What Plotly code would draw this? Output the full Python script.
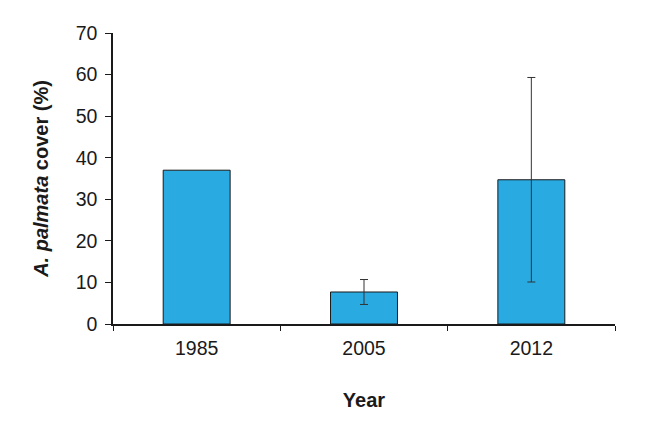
import plotly.graph_objects as go

years = ["1985", "2005", "2012"]
cover = [37.0, 7.7, 34.7]
err_years = ["2005", "2012"]
err_mean = [7.7, 34.7]
err_size = [3.0, 24.6]

fig = go.Figure()
fig.add_trace(go.Bar(
    x=years, y=cover,
    width=0.4,
    marker=dict(color="#29abe2", line=dict(color="#1a1a1a", width=1)),
))
# error bars only where the source has them
fig.add_trace(go.Scatter(
    x=err_years, y=err_mean, mode="markers",
    marker=dict(size=1, color="rgba(0,0,0,0)"),
    error_y=dict(type="data", array=err_size, visible=True,
                 color="#333333", thickness=1, width=4),
    hoverinfo="skip",
))

fig.update_layout(
    width=652, height=427,
    margin=dict(l=105, r=45, t=25, b=111),
    plot_bgcolor="white", paper_bgcolor="white",
    font=dict(family="Liberation Sans, Arial", size=19.5, color="#1a1a1a"),
    showlegend=False,
)
fig.update_xaxes(
    showline=True, linecolor="#1a1a1a", linewidth=1.5,
    ticks="outside", tickson="boundaries", ticklen=5, tickcolor="#1a1a1a",
    ticklabelstandoff=6,
    title=dict(text="<b>Year</b>", font=dict(size=20), standoff=35),
)
fig.update_yaxes(
    range=[0, 70], dtick=10, showgrid=False, zeroline=False,
    showline=True, linecolor="#1a1a1a", linewidth=1.5,
    ticks="outside", ticklen=6, tickcolor="#1a1a1a",
    ticklabelstandoff=4,
    title=dict(text="<b><i>A. palmata</i> cover (%)</b>", font=dict(size=20), standoff=22),
)

fig.write_html("out.html")
